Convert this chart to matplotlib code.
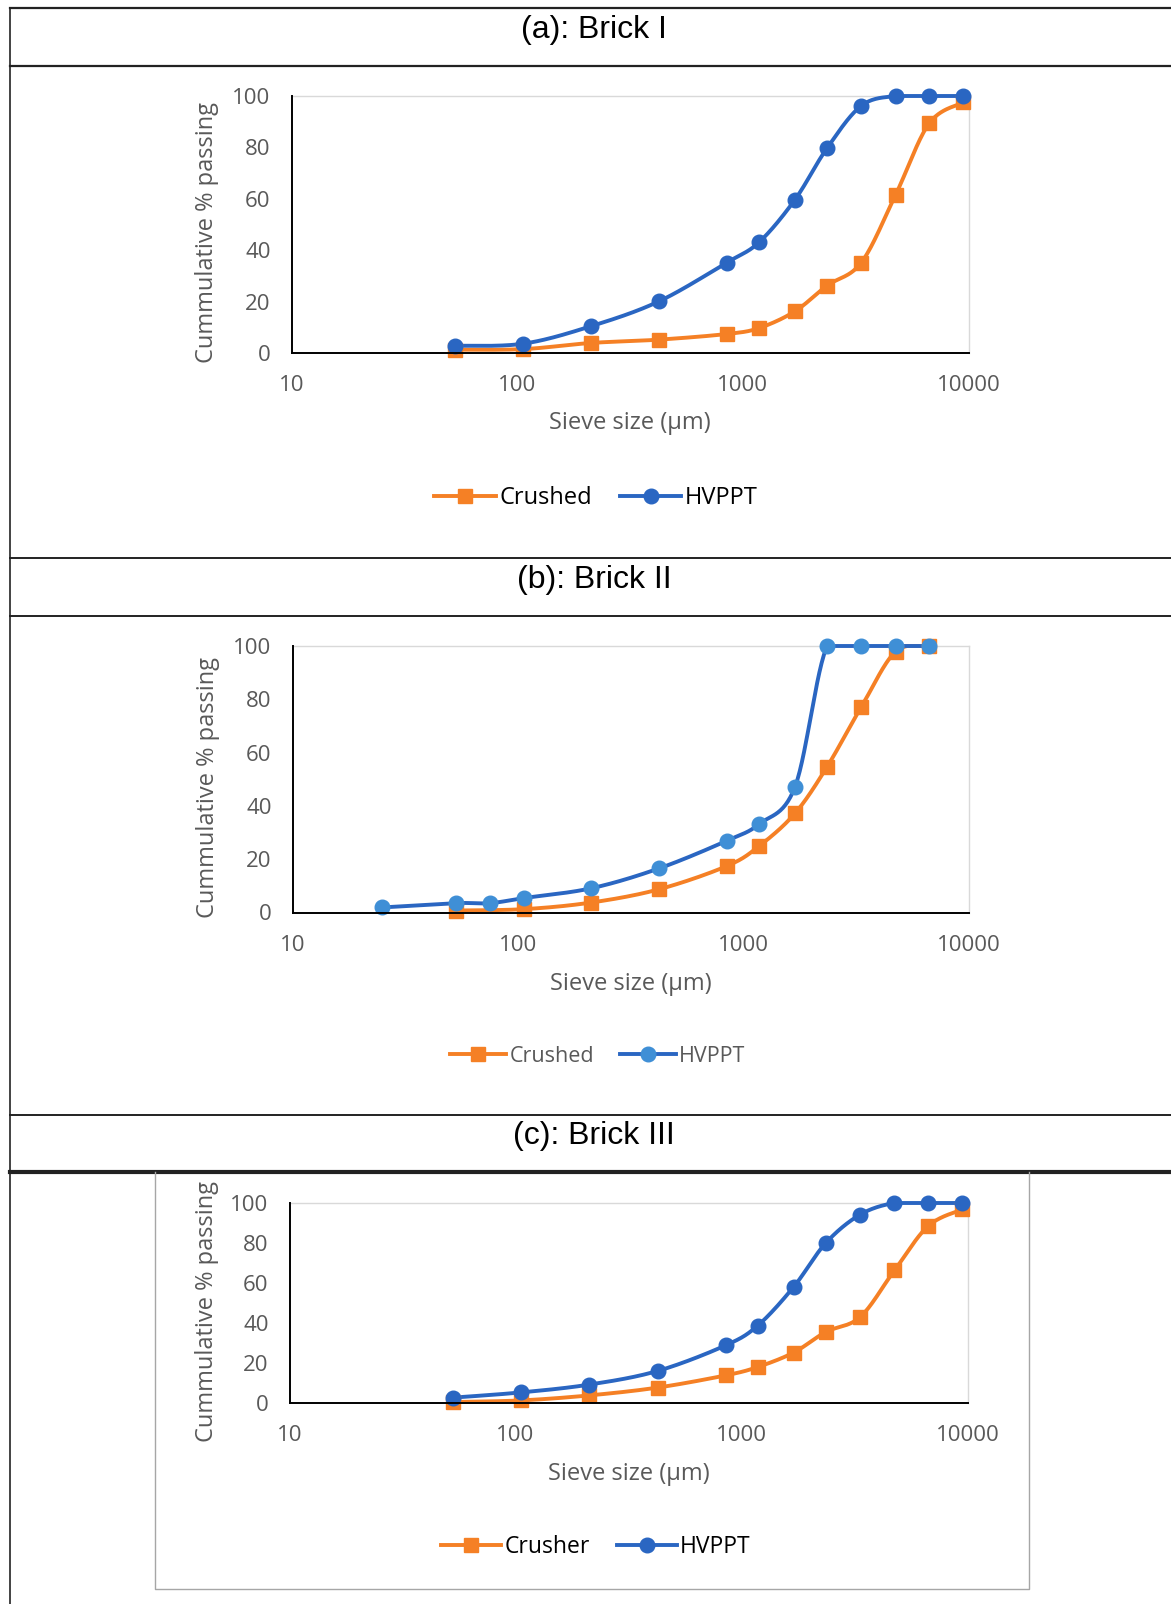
import numpy as np
import matplotlib
matplotlib.use("Agg")
import matplotlib.pyplot as plt
from matplotlib.lines import Line2D

# sieve sizes (um)
sieve = [53, 106, 212, 425, 850, 1180, 1700, 2360, 3350, 4750, 6700, 9500]

# (a) Brick I
a_crushed = [1.3, 1.5, 3.9, 5.2, 7.4, 9.7, 16.2, 26.2, 35.2, 61.5, 89.4, 97.5]
a_hvppt = [2.8, 3.6, 10.4, 20.1, 35.2, 43.1, 59.6, 79.7, 96.2, 100, 100, 100]

# (b) Brick II
b_sieve_crushed = [53, 106, 212, 425, 850, 1180, 1700, 2360, 3350, 4750, 6700]
b_crushed = [0.75, 1.25, 3.75, 8.75, 17.5, 25, 37.25, 54.75, 77.25, 97.9, 100]
b_sieve_hvppt = [25, 53, 75, 106, 212, 425, 850, 1180, 1700, 2360, 3350, 4750, 6700]
b_hvppt = [1.9, 3.5, 3.5, 5.4, 9.1, 16.6, 27, 33.25, 47.25, 100, 100, 100, 100]

# (c) Brick III
c_crushed = [0.5, 1.3, 3.8, 7.7, 13.8, 18, 25.2, 35.5, 43, 66.3, 88.5, 96.8]
c_hvppt = [2.7, 5.3, 9.2, 16, 28.8, 38.7, 58, 80, 94.2, 100, 100, 100]

titles = ["(a): Brick I", "(b): Brick II", "(c): Brick III"]
xticks = [10, 100, 1000, 10000]
yticks = [0, 20, 40, 60, 80, 100]

ORANGE = "#F58025"
BLUE = "#2A66C2"
BLUE_LIGHT = "#3F8FD6"
TXT = "#595959"

W, H = 1171, 1604
fig = plt.figure(figsize=(W / 100, H / 100), dpi=100)


def fx(x):
    return x / W


def fy(y):
    return 1 - y / H


def smooth(xs, ys, wpx, hpx, n=30):
    # catmull-rom in pixel space (log x), similar to excel smoothed lines
    u = np.log10(np.array(xs, float)) / 3.0 * wpx
    v = np.array(ys, float) / 100.0 * hpx
    P = np.column_stack([u, v])
    P = np.vstack([P[0], P, P[-1]])
    out = []
    for i in range(1, len(P) - 2):
        p0, p1, p2, p3 = P[i - 1], P[i], P[i + 1], P[i + 2]
        c1 = p1 + (p2 - p0) / 6.0
        c2 = p2 - (p3 - p1) / 6.0
        t = np.linspace(0, 1, n)[:, None]
        seg = ((1 - t) ** 3) * p1 + 3 * ((1 - t) ** 2) * t * c1 + 3 * (1 - t) * t ** 2 * c2 + t ** 3 * p2
        out.append(seg)
    out = np.vstack(out)
    sx = 10 ** (out[:, 0] / wpx * 3.0)
    sy = np.clip(out[:, 1] / hpx * 100.0, 0, 100)
    return sx, sy


def panel(box, series, xlab_y, ylab_x, leg, leg_fs, leg_color, lab):
    x0, y0, x1, y1 = box
    ax = fig.add_axes([fx(x0), fy(y1), fx(x1 - x0), (y1 - y0) / H])
    ax.set_xscale("log")
    ax.set_xlim(10, 10000)
    ax.set_ylim(0, 100)
    wpx, hpx = x1 - x0, y1 - y0
    for xs, ys, lc, mc, mk, ms in series:
        sx, sy = smooth(xs, ys, wpx, hpx)
        ax.plot(sx, sy, color=lc, lw=2.8, clip_on=False, zorder=3, solid_capstyle="round")
        ax.plot(xs, ys, ls="none", marker=mk, ms=ms, color=mc, mec=mc, clip_on=False, zorder=4)
    ax.xaxis.set_major_locator(matplotlib.ticker.FixedLocator(xticks))
    ax.xaxis.set_minor_locator(matplotlib.ticker.NullLocator())
    ax.set_xticklabels([str(t) for t in xticks])
    ax.set_yticks(yticks)
    ax.tick_params(length=0, labelsize=16, colors=TXT, labelfontfamily="Open Sans")
    ax.tick_params(axis="x", pad=16)
    ax.tick_params(axis="y", pad=15)
    for s in ["top", "right"]:
        ax.spines[s].set_color("#D9D9D9")
        ax.spines[s].set_linewidth(1.0)
    for s in ["left", "bottom"]:
        ax.spines[s].set_color("black")
        ax.spines[s].set_linewidth(1.4)
        ax.spines[s].set_zorder(5)
    fig.text(fx((x0 + x1) / 2), fy(xlab_y), "Sieve size (\u00b5m)", ha="center", va="center",
             fontsize=17, color=TXT, family="Open Sans")
    fig.text(fx(ylab_x), fy((y0 + y1) / 2 + 8), "Cummulative % passing", ha="center", va="center",
             rotation=90, fontsize=17, color=TXT, family="Open Sans")
    handles = [
        Line2D([], [], color=series[0][2], lw=2.8, marker=series[0][4], ms=series[0][5], mfc=series[0][3], mec=series[0][3]),
        Line2D([], [], color=series[1][2], lw=2.8, marker=series[1][4], ms=series[1][5], mfc=series[1][3], mec=series[1][3]),
    ]
    lg = fig.legend(handles, lab, loc="center", bbox_to_anchor=(fx(leg[0]), fy(leg[1])), ncol=2, frameon=False,
                    handlelength=2.6, handletextpad=0.15, columnspacing=1.2,
                    prop={"family": "Open Sans", "size": leg_fs})
    for t in lg.get_texts():
        t.set_color(leg_color)
    return ax


# table lines
for y, lw in [(8, 1.6), (66, 1.6), (558, 1.4), (616, 1.4), (1115, 1.4), (1172, 3.0)]:
    fig.add_artist(Line2D([fx(10), 1.0], [fy(y), fy(y)], color="#222222", lw=lw))
fig.add_artist(Line2D([fx(10), fx(10)], [fy(8), 0.0], color="#222222", lw=1.2))

# gray chart box of panel (c)
fig.add_artist(Line2D([fx(155), fx(155), fx(1029), fx(1029)], [fy(1172), fy(1589), fy(1589), fy(1172)],
                      color="#A6A6A6", lw=1.0))

for ty, t in zip([30, 580, 1136], titles):
    fig.text(fx(594), fy(ty), t, ha="center", va="center", fontsize=23, family="Liberation Sans", color="black")

panel((291.5, 96, 968.5, 353),
      [(sieve, a_crushed, ORANGE, ORANGE, "s", 10), (sieve, a_hvppt, BLUE, BLUE, "o", 10.5)],
      423, 207, (596, 498), 17, "black", ["Crushed", "HVPPT"])

panel((292.5, 646, 968.5, 912.5),
      [(b_sieve_crushed, b_crushed, ORANGE, ORANGE, "s", 10), (b_sieve_hvppt, b_hvppt, BLUE, BLUE_LIGHT, "o", 10.5)],
      984, 208, (598, 1056), 15.5, TXT, ["Crushed", "HVPPT"])

panel((289.5, 1203, 967.5, 1403),
      [(sieve, c_crushed, ORANGE, ORANGE, "s", 10), (sieve, c_hvppt, BLUE, BLUE, "o", 10.5)],
      1474, 207, (596, 1547), 16.5, "black", ["Crusher", "HVPPT"])

fig.savefig("out.png", dpi=100)
